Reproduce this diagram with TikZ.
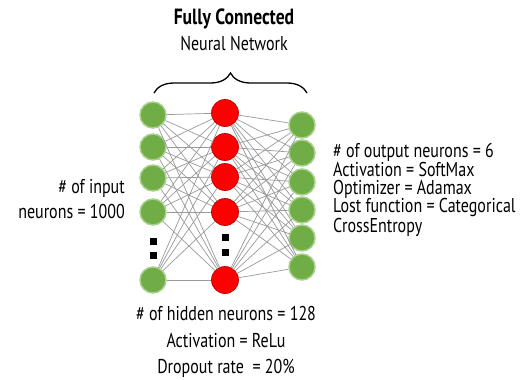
\documentclass[tikz,border=0pt]{standalone}
\usepackage{fontspec}
\setmainfont{PT Sans}[FakeStretch=0.8]
\usetikzlibrary{positioning,decorations.pathreplacing}

\definecolor{neurongreen}{HTML}{70AD47}
\definecolor{neuronrim}{HTML}{A9D18E}
\definecolor{neuronred}{HTML}{FF0000}
\definecolor{neurondark}{HTML}{C00000}

\begin{document}
\begin{tikzpicture}[x=1pt, y=-1pt,
    inp/.style={circle, fill=neurongreen, draw=neuronrim, line width=1.5pt,
      minimum size=26pt, inner sep=0pt},
    hid/.style={circle, fill=neuronred, draw=neurondark, line width=0.7pt,
      minimum size=27pt, inner sep=0pt},
    syn/.style={draw=black!40, line width=0.7pt},
    more/.style={fill=black, minimum size=7pt, inner sep=0pt},
    lbl/.style={inner sep=0pt}]
    \useasboundingbox (0,0) rectangle (520,380);
    % layers
    \foreach \i/\y in {1/115,2/147,3/178,4/212,5/280}
      \node[inp] (in\i) at (153,\y) {};
    \foreach \i/\y in {1/113,2/147,3/177,4/212,5/280}
      \node[hid] (hid\i) at (225,\y) {};
    \foreach \i/\y in {1/125,2/153,3/182,4/210,5/238,6/267}
      \node[inp] (out\i) at (302,\y) {};
    % weights
    \foreach \i in {1,...,5}
      \foreach \j in {1,...,5}
        \draw[syn] (in\i) -- (hid\j);
    \foreach \i in {1,...,5}
      \foreach \j in {1,...,6}
        \draw[syn] (hid\i) -- (out\j);
    % skipped neurons
    \node[more] (inA) at (153,241) {};
    \node[more] (inB) at (153,255) {};
    \node[more] (hidA) at (225,237) {};
    \node[more] (hidB) at (225,252) {};
    % brace over the net
    \coordinate (bl) at (154,93);
    \coordinate (br) at (307,93);
    \draw[line width=1.3pt, decorate, decoration={brace, amplitude=20pt}] (bl) -- (br);
    \node[lbl, font=\fontsize{22}{22}\bfseries] (title) at (234,19) {Fully Connected};
    \node[lbl, font=\fontsize{20}{20}\selectfont] (subtitle) at (234,44) {Neural Network};
    % labels
    \node[lbl, align=right, anchor=east, font=\fontsize{20}{25}\selectfont]
      (intext) at (125,199) {\# of input\\neurons = 1000};
    \node[lbl, align=center, font=\fontsize{20}{26.7}\selectfont]
      (hidtext) at (226,342) {\# of hidden neurons = 128\\Activation = ReLu\\Dropout rate\ \ = 20\%};
    \node[lbl, align=left, anchor=west, font=\fontsize{20}{18.4}\selectfont]
      (outtext) at (333,190) {\# of output neurons = 6\\Activation = SoftMax\\Optimizer = Adamax\\Lost function = Categorical\\CrossEntropy};
\end{tikzpicture}
\end{document}
